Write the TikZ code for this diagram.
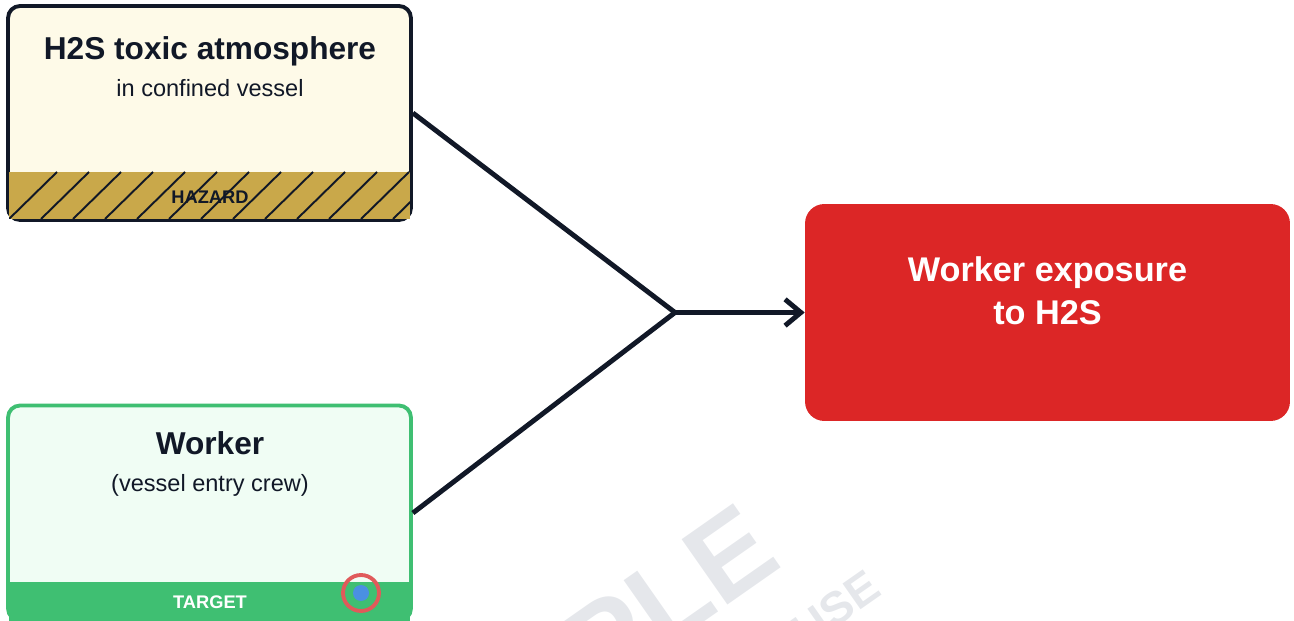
\documentclass[tikz,border=0pt]{standalone}
\usepackage{fontspec}
\setmainfont{Liberation Sans}
\usetikzlibrary{arrows.meta}
\definecolor{ink}{HTML}{111827}
\definecolor{hazfill}{HTML}{FEFAE8}
\definecolor{hazstrip}{HTML}{C9A84A}
\definecolor{tgtline}{HTML}{3FBF72}
\definecolor{tgtfill}{HTML}{F0FDF4}
\definecolor{outred}{HTML}{DC2626}
\definecolor{ringred}{HTML}{E05A5A}
\definecolor{dotblue}{HTML}{4A90E2}
\definecolor{wmgray}{HTML}{E5E7EB}
\begin{document}
\begin{tikzpicture}[x=0.02cm,y=-0.02cm,
		>={Straight Barb[length=9pt,width=15pt]},
		every node/.style={inner sep=0pt},
		hazbox/.style={draw=ink,line width=2.2pt,fill=hazfill,rounded corners=6.8pt,minimum width=8.06cm,minimum height=4.28cm},
		tgtbox/.style={draw=tgtline,line width=2.2pt,fill=tgtfill,rounded corners=6.8pt,minimum width=8.06cm,minimum height=4.3cm},
		outbox/.style={fill=outred,rounded corners=11pt,minimum width=9.7cm,minimum height=4.34cm},
		title/.style={anchor=base,font=\bfseries\fontsize{18}{22}\selectfont,text=ink},
		sub/.style={anchor=base,font=\fontsize{13.4}{16}\selectfont,text=ink},
		tag/.style={anchor=base,font=\bfseries\fontsize{10.4}{12}\selectfont},
		conn/.style={draw=ink,line width=2.8pt},
		wm/.style={text=wmgray,font=\bfseries,rotate=35,anchor=base east}]
		
		\useasboundingbox (0,0) rectangle (1294,621);
		\clip (0,0) rectangle (1294,621);
		
		% watermark
		\node[wm,font=\bfseries\fontsize{66}{66}\selectfont] (wm1) at (785,565) {SAMPLE};
		\node[wm,font=\bfseries\fontsize{26}{26}\selectfont] (wm2) at (884,594) {USE};
		
		\node[hazbox] (hz) at (209.5,113) {};
		\fill[hazstrip] (9,172) rectangle (410,219);
		\begin{scope}
			\clip (9,172) rectangle (410,219);
			\foreach \k in {0,...,12}
				\draw[ink,line width=1.1pt] (9+32*\k,219) -- ++(48,-47);
		\end{scope}
		\node[tag,text=ink] (haztag) at (210,203.5) {HAZARD};
		\node[title] (haztitle) at (210,60) {H2S toxic atmosphere};
		\node[sub] (hazsub) at (210,97) {in confined vessel};
		
		\node[tgtbox] (wk) at (209.5,513) {};
		\fill[tgtline] (9,582) rectangle (410,621);
		\node[tag,text=white] (wktag) at (210,608.5) {TARGET};
		\draw[ringred,line width=2.2pt] (361,593) circle[radius=0.36cm];
		\fill[dotblue] (361,593) circle[radius=0.16cm];
		\node[title] (wktitle) at (210,454.5) {Worker};
		\node[sub] (wksub) at (210,491) {(vessel entry crew)};
		
		\node[outbox] (ex) at (1047.5,312.5) {};
		\node[title,text=white,font=\bfseries\fontsize{19.5}{24}\selectfont] (ex1) at (1047.5,282) {Worker exposure};
		\node[title,text=white,font=\bfseries\fontsize{19.5}{24}\selectfont] (ex2) at (1047.5,325) {to H2S};
		
		\coordinate (j) at (675,312.5);
		\draw[conn] (hz.east) -- (j);
		\draw[conn,->] (wk.east) -- (j) -- (ex.west);
		\end{tikzpicture}
\end{document}
